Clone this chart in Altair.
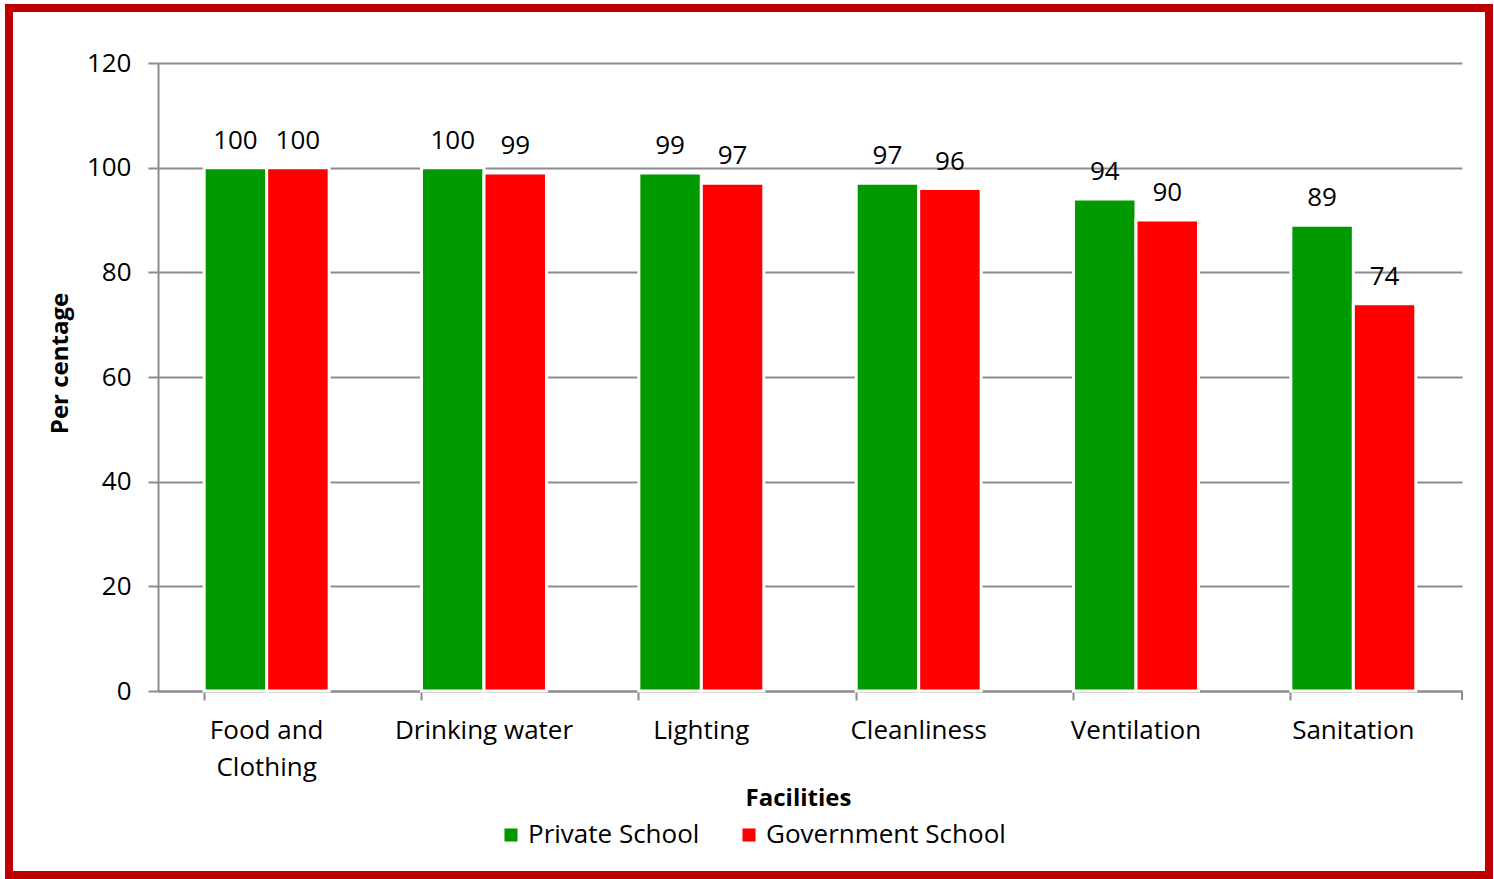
import altair as alt
import pandas as pd

categories = ["Food and Clothing", "Drinking water", "Lighting", "Cleanliness", "Ventilation", "Sanitation"]
series = ["Private School", "Government School"]
private_vals = [100, 100, 99, 97, 94, 89]
government_vals = [100, 99, 97, 96, 90, 74]
y_ticks = [0, 20, 40, 60, 80, 100, 120]
colors = ["#009900", "#FF0000"]

rows = []
for c, p, g in zip(categories, private_vals, government_vals):
    rows.append({"Facility": c, "School": series[0], "Value": p})
    rows.append({"Facility": c, "School": series[1], "Value": g})
df = pd.DataFrame(rows)

FONT = "Open Sans"
W, H = 1304, 628
GRID = "#8C8C8C"

x_enc = alt.X(
    "Facility:N",
    sort=categories,
    scale=alt.Scale(paddingInner=0.425, paddingOuter=0.2125),
    axis=alt.Axis(
        title="Facilities",
        labelAngle=0,
        labelExpr="datum.label == 'Food and Clothing' ? ['Food and', 'Clothing'] : datum.label",
        labelLineHeight=37,
        labelFontSize=26,
        labelFont=FONT,
        labelColor="#000000",
        labelPadding=17,
        bandPosition=0,
        ticks=True,
        tickSize=9,
        tickColor=GRID,
        tickWidth=2,
        domainColor=GRID,
        domainWidth=2,
        titleFont=FONT,
        titleFontSize=24,
        titleFontWeight="bold",
        titleColor="#000000",
        titlePadding=6,
        titleX=640,
        grid=False,
    ),
)
xoff_enc = alt.XOffset("School:N", sort=series, scale=alt.Scale(paddingInner=0, paddingOuter=0))
y_enc = alt.Y(
    "Value:Q",
    scale=alt.Scale(domain=[0, 120], nice=False),
    axis=alt.Axis(
        title="Per centage",
        values=y_ticks,
        labelFontSize=26,
        labelFont=FONT,
        labelColor="#000000",
        labelPadding=17,
        tickSize=10,
        tickColor=GRID,
        tickWidth=2,
        domainColor=GRID,
        domainWidth=2,
        grid=True,
        gridColor=GRID,
        gridWidth=2,
        titleFont=FONT,
        titleFontSize=24,
        titleFontWeight="bold",
        titleColor="#000000",
        titlePadding=14,
        titleY=300,
    ),
)

bars = alt.Chart(df).mark_bar(stroke="white", strokeWidth=3).encode(
    x=x_enc,
    xOffset=xoff_enc,
    y=y_enc,
    color=alt.Color(
        "School:N",
        sort=series,
        scale=alt.Scale(domain=series, range=colors),
        legend=alt.Legend(
            title=None,
            orient="none",
            legendX=340,
            legendY=759,
            direction="horizontal",
            symbolType="square",
            symbolSize=170,
            symbolStrokeWidth=0,
            labelFont=FONT,
            labelFontSize=26,
            labelColor="#000000",
            labelOffset=4,
            labelLimit=0,
            columnPadding=36,
        ),
    ),
)

labels = alt.Chart(df).mark_text(
    font=FONT, fontSize=26, color="#000000", baseline="alphabetic", align="center", dy=-19
).encode(
    x=alt.X("Facility:N", sort=categories),
    xOffset=alt.XOffset("School:N", sort=series),
    y=alt.Y("Value:Q"),
    text=alt.Text("Value:Q"),
)

one = pd.DataFrame({"a": [0]})
end_tick = alt.Chart(one).mark_rule(color=GRID, strokeWidth=2).encode(
    x=alt.value(W), y=alt.value(H), y2=alt.value(H + 9)
)
frame = alt.Chart(one).mark_rect(fill=None, stroke="#C00000", strokeWidth=8).encode(
    x=alt.value(9 - 158), x2=alt.value(1489 - 158), y=alt.value(8 - 63), y2=alt.value(875 - 63)
)

chart = alt.layer(bars, labels, end_tick, frame).properties(
    width=W,
    height=H,
    autosize=alt.AutoSizeParams(type="none"),
    padding={"left": 158, "top": 63, "right": 32, "bottom": 188},
    background="white",
).configure_view(stroke=None)

chart.save("out.html", embed_options={"renderer": "svg", "actions": False})
